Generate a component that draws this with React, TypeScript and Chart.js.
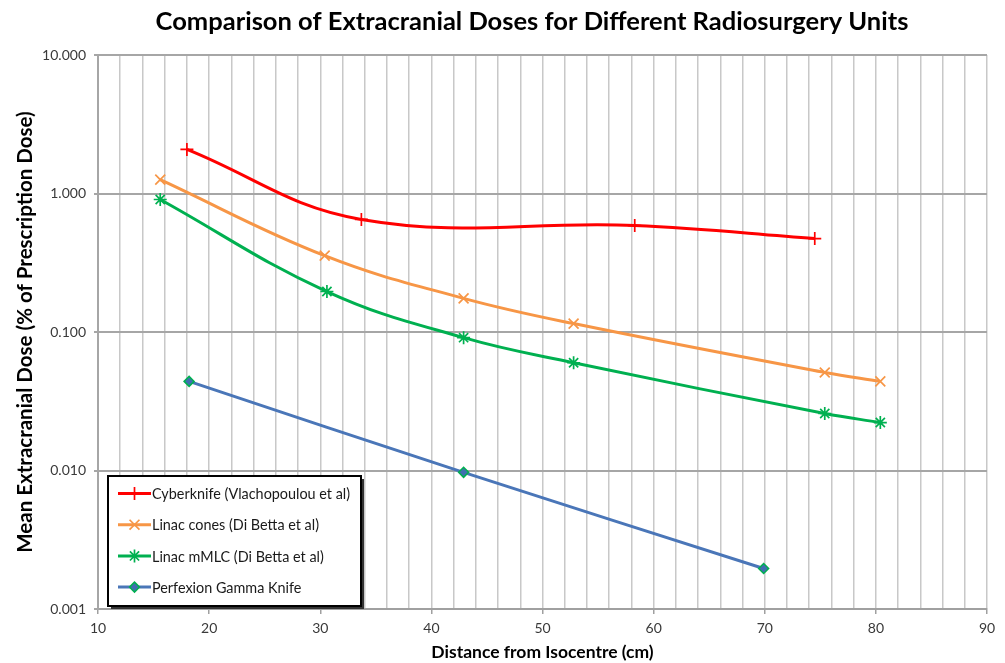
import React, { useEffect, useRef } from 'react';
import { Chart, registerables } from 'chart.js';
import { drawPoint } from 'chart.js/helpers';
Chart.register(...registerables);

const cyberX = [18, 33.7, 58.3, 74.5];
const cyberY = [2.08, 0.65, 0.587, 0.473];
const conesX = [15.6, 30.4, 42.9, 52.8, 75.4, 80.4];
const conesY = [1.26, 0.356, 0.175, 0.115, 0.051, 0.044];
const mmlcX = [15.6, 30.6, 42.9, 52.8, 75.4, 80.4];
const mmlcY = [0.905, 0.196, 0.091, 0.06, 0.0258, 0.0222];
const gammaX = [18.2, 42.9, 69.9];
const gammaY = [0.044, 0.0097, 0.00196];

const seriesNames = [
  'Cyberknife (Vlachopoulou et al)',
  'Linac cones (Di Betta et al)',
  'Linac mMLC (Di Betta et al)',
  'Perfexion Gamma Knife',
];
const yTicks = [0.001, 0.01, 0.1, 1, 10];
const xLabelTicks = [10, 20, 30, 40, 50, 60, 70, 80, 90];

const FONT = 'Lato, "Open Sans", sans-serif';

const pts = (xs: number[], ys: number[]) => xs.map((x, i) => ({ x, y: ys[i] }));

const legendPlugin = {
  id: 'customLegend',
  afterDraw(chart: any) {
    const ctx = chart.ctx;
    ctx.save();
    // title
    ctx.fillStyle = '#000';
    ctx.font = `bold 25.5px ${FONT}`;
    ctx.textAlign = 'center';
    ctx.textBaseline = 'middle';
    ctx.fillText('Comparison of Extracranial Doses for Different Radiosurgery Units', 532, 22);

    const bx = 108, by = 476, bw = 253, bh = 130;
    ctx.fillStyle = '#333';
    ctx.fillRect(bx + 3, by + 3, bw, bh);
    ctx.fillStyle = '#fff';
    ctx.fillRect(bx, by, bw, bh);
    ctx.strokeStyle = '#000';
    ctx.lineWidth = 2;
    ctx.strokeRect(bx, by, bw, bh);
    chart.data.datasets.forEach((ds: any, i: number) => {
      const y = 493.5 + i * 31.2;
      ctx.strokeStyle = ds.borderColor;
      ctx.lineWidth = 3;
      ctx.beginPath();
      ctx.moveTo(118, y);
      ctx.lineTo(151, y);
      ctx.stroke();
      ctx.fillStyle = ds.pointBackgroundColor;
      ctx.strokeStyle = ds.pointBorderColor;
      ctx.lineWidth = ds.pointBorderWidth;
      drawPoint(ctx, { pointStyle: ds.pointStyle, radius: ds.pointRadius, rotation: 0, borderWidth: ds.pointBorderWidth }, 134.5, y);
      ctx.fillStyle = '#1a1a1a';
      ctx.font = `14.4px ${FONT}`;
      ctx.textAlign = 'left';
      ctx.textBaseline = 'middle';
      ctx.fillText(ds.label, 152, y + 1);
    });
    ctx.restore();
  },
};

export default function App() {
  const ref = useRef<HTMLCanvasElement>(null);
  useEffect(() => {
    const mk = (label: string, data: any, color: string, style: string, bg?: string, bc?: string, r = 6, bw = 1.5) => ({
      label,
      data,
      borderColor: color,
      backgroundColor: color,
      borderWidth: 3,
      tension: 0.4,
      pointStyle: style,
      pointRadius: r,
      pointBackgroundColor: bg || color,
      pointBorderColor: bc || color,
      pointBorderWidth: bw,
      fill: false,
    });
    const chart = new Chart(ref.current!, {
      type: 'line',
      data: {
        datasets: [
          mk(seriesNames[0], pts(cyberX, cyberY), '#ff0000', 'cross', undefined, undefined, 6.5, 1.7),
          mk(seriesNames[1], pts(conesX, conesY), '#f79646', 'crossRot', undefined, undefined, 7, 1.7),
          mk(seriesNames[2], pts(mmlcX, mmlcY), '#00b050', 'star', undefined, undefined, 6.5, 1.7),
          mk(seriesNames[3], pts(gammaX, gammaY), '#4a76b8', 'rectRot', '#3f6fb0', '#00b050', 5, 1.5),
        ] as any,
      },
      options: {
        animation: false,
        responsive: true,
        maintainAspectRatio: false,
        layout: { padding: { top: 55, right: 18, left: 0, bottom: 0 } },
        plugins: { legend: { display: false }, tooltip: { enabled: false }, title: { display: false } },
        scales: {
          x: {
            type: 'linear',
            min: 10,
            max: 90,
            afterFit: (s: any) => { s.height = 54; },
            ticks: {
              stepSize: 2,
              autoSkip: false,
              maxRotation: 0,
              padding: 6,
              color: '#3a3a3a',
              font: { family: FONT, size: 14 },
              callback: (v: any) => (xLabelTicks.includes(Number(v)) ? String(v) : ''),
            },
            grid: {
              color: '#c8c8c8',
              lineWidth: 1.5,
              tickLength: 5,
              tickColor: (c: any) => (c.tick && xLabelTicks.includes(c.tick.value) ? '#a0a0a0' : 'rgba(0,0,0,0)'),
            },
            border: { color: '#a0a0a0', width: 2 },
            title: {
              display: true,
              text: 'Distance from Isocentre (cm)',
              color: '#000',
              font: { family: FONT, size: 17.5, weight: 'bold' },
              padding: 0,
            },
          },
          y: {
            type: 'logarithmic',
            min: 0.001,
            max: 10,
            afterFit: (s: any) => { s.width = 98; },
            afterBuildTicks: (s: any) => { s.ticks = yTicks.map((v) => ({ value: v })); },
            ticks: {
              padding: 8,
              color: '#3a3a3a',
              font: { family: FONT, size: 14 },
              callback: (v: any) => Number(v).toFixed(3),
            },
            grid: { color: '#a6a6a6', lineWidth: 2, tickLength: 4 },
            border: { color: '#a6a6a6', width: 2 },
            title: {
              display: true,
              text: 'Mean Extracranial Dose (% of Prescription Dose)',
              color: '#000',
              font: { family: FONT, size: 20.5, weight: 'bold' },
              padding: { top: 13, bottom: 0 },
            },
          },
        },
      } as any,
      plugins: [legendPlugin],
    });
    return () => chart.destroy();
  }, []);
  return (
    <div style={{ position: 'fixed', left: 0, top: 0, width: 1005, height: 663, background: '#fff' }}>
      <canvas ref={ref} />
    </div>
  );
}
